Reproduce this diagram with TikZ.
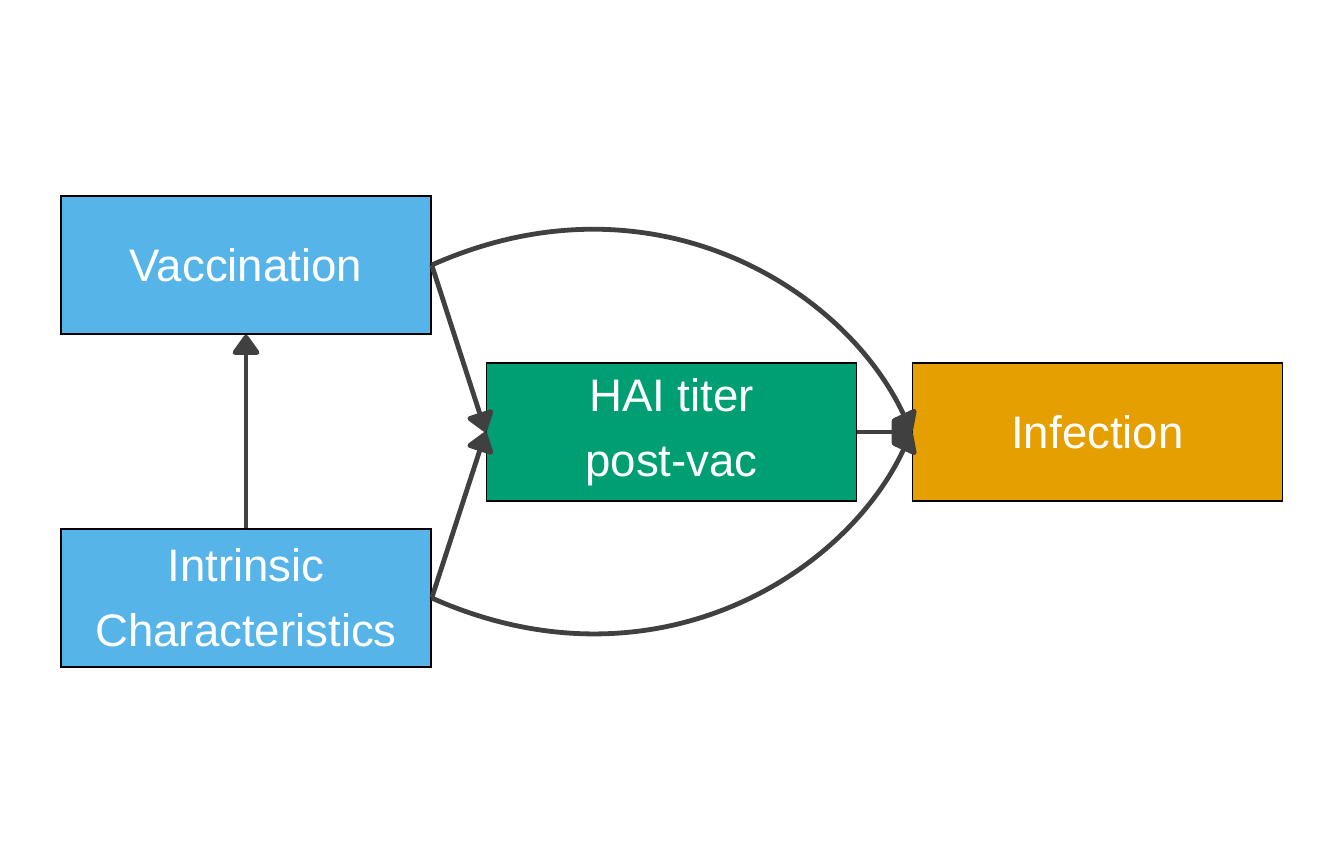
\documentclass[tikz,border=0pt]{standalone}
\usepackage{fontspec}
\setmainfont{Liberation Sans}
\usepackage{tikz}
\usetikzlibrary{arrows.meta, positioning}
\definecolor{vacblue}{HTML}{56B4E9}
\definecolor{titgreen}{HTML}{009E73}
\definecolor{infgold}{HTML}{E69F00}
\definecolor{edgegray}{HTML}{404040}
\tikzset{
factor/.style={draw=black, line width=0.75pt, minimum width=185pt, minimum height=69pt,
  text=white, align=center, font=\fontsize{22.8}{32.5}\selectfont, inner sep=0pt},
exposure/.style={factor, fill=vacblue},
mediator/.style={factor, fill=titgreen},
outcome/.style={factor, fill=infgold},
effect/.style={-{Triangle[length=11pt, width=15pt, round]}, line width=2.4pt, draw=edgegray}
}

\begin{document}
\begin{tikzpicture}[x=0.5pt, y=-0.5pt]
			\useasboundingbox (0,0) rectangle (1344,865);
			\node[exposure] (vac) at (246,265) {Vaccination};
			\node[exposure] (intr) at (246,598) {Intrinsic\\Characteristics};
			\node[mediator] (hai) at (671.5,432) {HAI titer\\post-vac};
			\node[outcome] (inf) at (1097.5,432) {Infection};
			% ----
			\draw[effect] (intr) to (vac);
			\draw[effect] (vac.east) to (hai.west);
			\draw[effect] (intr.east) to (hai.west);
			\draw[effect] (hai) to (inf);

			\draw[effect] (vac.east) .. controls +(-24:240) and +(245:160) .. (inf.west);
			\draw[effect] (intr.east) .. controls +(24:240) and +(115:160) .. (inf.west);
		\end{tikzpicture}
\end{document}
